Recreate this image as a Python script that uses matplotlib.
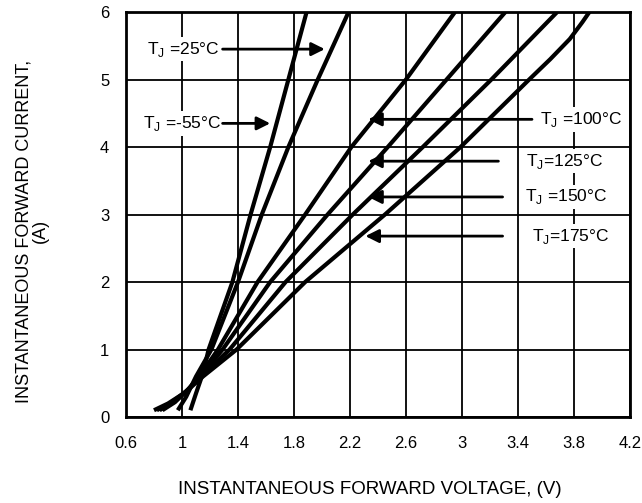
import matplotlib
matplotlib.use("Agg")
import matplotlib.pyplot as plt
import numpy as np

plt.rcParams['font.family'] = ['Liberation Sans', 'DejaVu Sans']
plt.rcParams['mathtext.fontset'] = 'custom'
plt.rcParams['mathtext.rm'] = 'Liberation Sans'

# forward voltage (V) / current (A)
v_m55 = [1.06, 1.10, 1.15, 1.19, 1.36, 1.49, 1.63, 1.76, 1.89]
i_m55 = [0.10, 0.35, 0.65, 1.00, 2.00, 3.00, 4.00, 5.00, 6.00]
v_25 = [0.97, 1.03, 1.10, 1.21, 1.40, 1.57, 1.76, 1.97, 2.19]
i_25 = [0.10, 0.30, 0.60, 1.00, 2.00, 3.00, 4.00, 5.00, 6.00]
v_100 = [0.86, 0.95, 1.05, 1.15, 1.257, 1.54, 1.88, 2.21, 2.60, 2.95]
i_100 = [0.10, 0.22, 0.42, 0.68, 1.00, 2.00, 3.00, 4.00, 5.00, 6.00]
v_125 = [0.84, 0.94, 1.04, 1.15, 1.29, 1.63, 2.04, 2.47, 2.89, 3.31]
i_125 = [0.10, 0.22, 0.40, 0.65, 1.00, 2.00, 3.00, 4.00, 5.00, 6.00]
v_150 = [0.82, 0.92, 1.03, 1.15, 1.34, 1.74, 2.22, 2.72, 3.21, 3.68]
i_150 = [0.10, 0.21, 0.38, 0.63, 1.00, 2.00, 3.00, 4.00, 5.00, 6.00]
v_175 = [0.80, 0.90, 1.02, 1.15, 1.39, 1.88, 2.45, 2.99, 3.48, 3.63, 3.77, 3.86, 3.91]
i_175 = [0.10, 0.20, 0.36, 0.60, 1.00, 2.00, 3.00, 4.00, 5.00, 5.30, 5.60, 5.85, 6.00]

x_ticks = [0.6, 1, 1.4, 1.8, 2.2, 2.6, 3, 3.4, 3.8, 4.2]
x_labels = ['0.6', '1', '1.4', '1.8', '2.2', '2.6', '3', '3.4', '3.8', '4.2']
y_ticks = [0, 1, 2, 3, 4, 5, 6]

fig = plt.figure(figsize=(6.42, 5.03), dpi=100)
ax = fig.add_axes([126/642, 1-417/503, 504/642, 405/503])

for v, i in [(v_m55, i_m55), (v_25, i_25), (v_100, i_100),
             (v_125, i_125), (v_150, i_150), (v_175, i_175)]:
    ax.plot(v, i, color='black', lw=3, solid_capstyle='butt',
            solid_joinstyle='round', zorder=3)

ax.set_xlim(0.6, 4.2)
ax.set_ylim(0, 6)
ax.set_xticks(x_ticks)
ax.set_xticklabels(x_labels)
ax.set_yticks(y_ticks)
ax.tick_params(length=0, labelsize=12)
ax.tick_params(axis='x', pad=14)
ax.tick_params(axis='y', pad=12)
ax.grid(True, color='black', lw=1.3)
ax.set_axisbelow(True)
for s in ax.spines.values():
    s.set_linewidth(2)

# labels with arrows: (text, text x, y, arrow tail x, arrow tip x, ha)
sub = r'T$_\mathregular{J}$'
notes = [
    (sub + ' =25°C', 1.27, 5.45, 1.29, 2.02, 'right'),
    (sub + ' =-55°C', 1.28, 4.35, 1.29, 1.63, 'right'),
    (sub + ' =100°C', 3.56, 4.41, 3.5, 2.33, 'left'),
    (sub + '=125°C', 3.46, 3.79, 3.26, 2.33, 'left'),
    (sub + ' =150°C', 3.45, 3.26, 3.29, 2.33, 'left'),
    (sub + '=175°C', 3.50, 2.68, 3.29, 2.31, 'left'),
]
for txt, tx, ty, x0, x1, ha in notes:
    ax.text(tx, ty, txt, fontsize=12.5, ha=ha, va='center', zorder=4,
            bbox=dict(facecolor='white', edgecolor='none', pad=2))
    ax.annotate('', xy=(x1, ty), xytext=(x0, ty), zorder=5,
                arrowprops=dict(arrowstyle='-|>', color='black', lw=2,
                                mutation_scale=20, shrinkA=0, shrinkB=0))

fig.text(370/642, 1-490/503, 'INSTANTANEOUS FORWARD VOLTAGE, (V)',
         fontsize=13.5, ha='center', va='center')
fig.text(32/642, 1-231/503, 'INSTANTANEOUS FORWARD CURRENT,\n(A)',
         fontsize=13, ha='center', va='center', rotation=90, linespacing=0.95)

fig.savefig('out.png', dpi=100)
